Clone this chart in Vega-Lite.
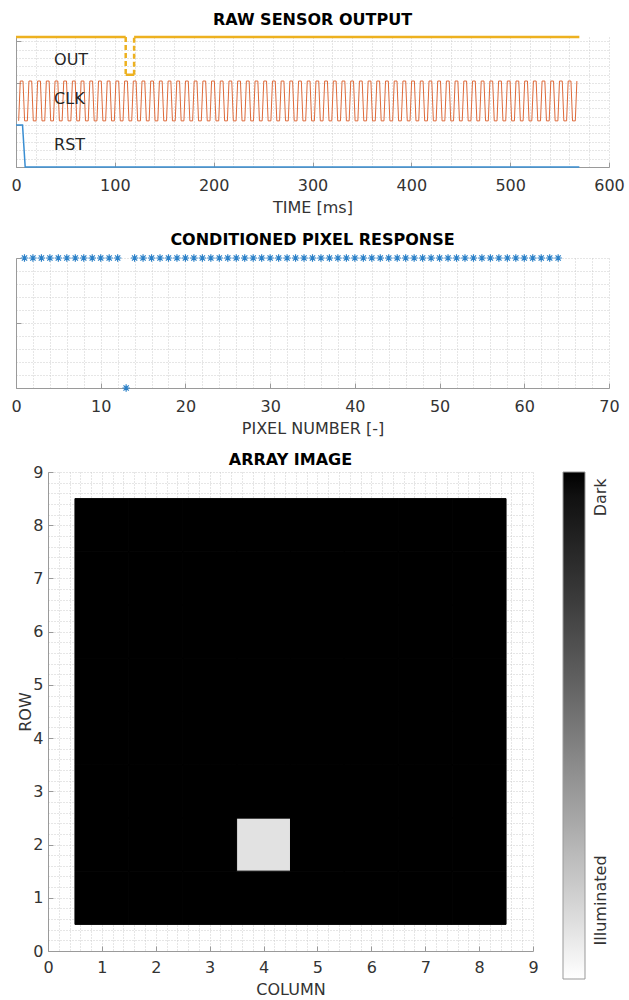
{
  "$schema": "https://vega.github.io/schema/vega-lite/v6.json",
  "background": "white",
  "padding": {"left": 10, "top": 12, "right": 0, "bottom": 0},
  "config": {
    "font": "DejaVu Sans",
    "view": {"stroke": null},
    "axis": {
      "labelFont": "DejaVu Sans", "labelFontSize": 16, "labelColor": "#333333",
      "titleFont": "DejaVu Sans", "titleFontSize": 16, "titleFontWeight": "normal", "titleColor": "#333333",
      "domainColor": "#9a9a9a", "tickColor": "#9a9a9a", "tickSize": -5,
      "gridColor": "#cccccc", "gridDash": [1, 2], "gridWidth": 1,
      "labelOverlap": false, "labelFlush": false, "labelPadding": 15, "titlePadding": 6
    },
    "title": {"font": "DejaVu Sans", "fontSize": 16, "fontWeight": "bold", "color": "#000000"}
  },
  "spacing": 16,
  "resolve": {"scale": {"color": "independent", "strokeDash": "independent"}, "legend": {"color": "independent", "strokeDash": "independent"}},
  "datasets": {
    "clk": [
      {"t":2.7,"v":1.1},{"t":4.3,"v":2.05},{"t":7.1,"v":2.05},{"t":8.7,"v":1.1},
      {"t":11.5,"v":1.1},{"t":13.1,"v":2.05},{"t":15.9,"v":2.05},{"t":17.5,"v":1.1},
      {"t":20.3,"v":1.1},{"t":21.9,"v":2.05},{"t":24.7,"v":2.05},{"t":26.3,"v":1.1},
      {"t":29.1,"v":1.1},{"t":30.7,"v":2.05},{"t":33.5,"v":2.05},{"t":35.1,"v":1.1},
      {"t":37.9,"v":1.1},{"t":39.5,"v":2.05},{"t":42.3,"v":2.05},{"t":43.9,"v":1.1},
      {"t":46.7,"v":1.1},{"t":48.3,"v":2.05},{"t":51.1,"v":2.05},{"t":52.7,"v":1.1},
      {"t":55.5,"v":1.1},{"t":57.1,"v":2.05},{"t":59.9,"v":2.05},{"t":61.5,"v":1.1},
      {"t":64.3,"v":1.1},{"t":65.9,"v":2.05},{"t":68.7,"v":2.05},{"t":70.3,"v":1.1},
      {"t":73.1,"v":1.1},{"t":74.7,"v":2.05},{"t":77.5,"v":2.05},{"t":79.1,"v":1.1},
      {"t":81.9,"v":1.1},{"t":83.5,"v":2.05},{"t":86.3,"v":2.05},{"t":87.9,"v":1.1},
      {"t":90.7,"v":1.1},{"t":92.3,"v":2.05},{"t":95.1,"v":2.05},{"t":96.7,"v":1.1},
      {"t":99.5,"v":1.1},{"t":101.1,"v":2.05},{"t":103.9,"v":2.05},{"t":105.5,"v":1.1},
      {"t":108.3,"v":1.1},{"t":109.9,"v":2.05},{"t":112.7,"v":2.05},{"t":114.3,"v":1.1},
      {"t":117.1,"v":1.1},{"t":118.7,"v":2.05},{"t":121.5,"v":2.05},{"t":123.1,"v":1.1},
      {"t":125.9,"v":1.1},{"t":127.5,"v":2.05},{"t":130.3,"v":2.05},{"t":131.9,"v":1.1},
      {"t":134.7,"v":1.1},{"t":136.3,"v":2.05},{"t":139.1,"v":2.05},{"t":140.7,"v":1.1},
      {"t":143.5,"v":1.1},{"t":145.1,"v":2.05},{"t":147.9,"v":2.05},{"t":149.5,"v":1.1},
      {"t":152.3,"v":1.1},{"t":153.9,"v":2.05},{"t":156.7,"v":2.05},{"t":158.3,"v":1.1},
      {"t":161.1,"v":1.1},{"t":162.7,"v":2.05},{"t":165.5,"v":2.05},{"t":167.1,"v":1.1},
      {"t":169.9,"v":1.1},{"t":171.5,"v":2.05},{"t":174.3,"v":2.05},{"t":175.9,"v":1.1},
      {"t":178.7,"v":1.1},{"t":180.3,"v":2.05},{"t":183.1,"v":2.05},{"t":184.7,"v":1.1},
      {"t":187.5,"v":1.1},{"t":189.1,"v":2.05},{"t":191.9,"v":2.05},{"t":193.5,"v":1.1},
      {"t":196.3,"v":1.1},{"t":197.9,"v":2.05},{"t":200.7,"v":2.05},{"t":202.3,"v":1.1},
      {"t":205.1,"v":1.1},{"t":206.7,"v":2.05},{"t":209.5,"v":2.05},{"t":211.1,"v":1.1},
      {"t":213.9,"v":1.1},{"t":215.5,"v":2.05},{"t":218.3,"v":2.05},{"t":219.9,"v":1.1},
      {"t":222.7,"v":1.1},{"t":224.3,"v":2.05},{"t":227.1,"v":2.05},{"t":228.7,"v":1.1},
      {"t":231.5,"v":1.1},{"t":233.1,"v":2.05},{"t":235.9,"v":2.05},{"t":237.5,"v":1.1},
      {"t":240.3,"v":1.1},{"t":241.9,"v":2.05},{"t":244.7,"v":2.05},{"t":246.3,"v":1.1},
      {"t":249.1,"v":1.1},{"t":250.7,"v":2.05},{"t":253.5,"v":2.05},{"t":255.1,"v":1.1},
      {"t":257.9,"v":1.1},{"t":259.5,"v":2.05},{"t":262.3,"v":2.05},{"t":263.9,"v":1.1},
      {"t":266.7,"v":1.1},{"t":268.3,"v":2.05},{"t":271.1,"v":2.05},{"t":272.7,"v":1.1},
      {"t":275.5,"v":1.1},{"t":277.1,"v":2.05},{"t":279.9,"v":2.05},{"t":281.5,"v":1.1},
      {"t":284.3,"v":1.1},{"t":285.9,"v":2.05},{"t":288.7,"v":2.05},{"t":290.3,"v":1.1},
      {"t":293.1,"v":1.1},{"t":294.7,"v":2.05},{"t":297.5,"v":2.05},{"t":299.1,"v":1.1},
      {"t":301.9,"v":1.1},{"t":303.5,"v":2.05},{"t":306.3,"v":2.05},{"t":307.9,"v":1.1},
      {"t":310.7,"v":1.1},{"t":312.3,"v":2.05},{"t":315.1,"v":2.05},{"t":316.7,"v":1.1},
      {"t":319.5,"v":1.1},{"t":321.1,"v":2.05},{"t":323.9,"v":2.05},{"t":325.5,"v":1.1},
      {"t":328.3,"v":1.1},{"t":329.9,"v":2.05},{"t":332.7,"v":2.05},{"t":334.3,"v":1.1},
      {"t":337.1,"v":1.1},{"t":338.7,"v":2.05},{"t":341.5,"v":2.05},{"t":343.1,"v":1.1},
      {"t":345.9,"v":1.1},{"t":347.5,"v":2.05},{"t":350.3,"v":2.05},{"t":351.9,"v":1.1},
      {"t":354.7,"v":1.1},{"t":356.3,"v":2.05},{"t":359.1,"v":2.05},{"t":360.7,"v":1.1},
      {"t":363.5,"v":1.1},{"t":365.1,"v":2.05},{"t":367.9,"v":2.05},{"t":369.5,"v":1.1},
      {"t":372.3,"v":1.1},{"t":373.9,"v":2.05},{"t":376.7,"v":2.05},{"t":378.3,"v":1.1},
      {"t":381.1,"v":1.1},{"t":382.7,"v":2.05},{"t":385.5,"v":2.05},{"t":387.1,"v":1.1},
      {"t":389.9,"v":1.1},{"t":391.5,"v":2.05},{"t":394.3,"v":2.05},{"t":395.9,"v":1.1},
      {"t":398.7,"v":1.1},{"t":400.3,"v":2.05},{"t":403.1,"v":2.05},{"t":404.7,"v":1.1},
      {"t":407.5,"v":1.1},{"t":409.1,"v":2.05},{"t":411.9,"v":2.05},{"t":413.5,"v":1.1},
      {"t":416.3,"v":1.1},{"t":417.9,"v":2.05},{"t":420.7,"v":2.05},{"t":422.3,"v":1.1},
      {"t":425.1,"v":1.1},{"t":426.7,"v":2.05},{"t":429.5,"v":2.05},{"t":431.1,"v":1.1},
      {"t":433.9,"v":1.1},{"t":435.5,"v":2.05},{"t":438.3,"v":2.05},{"t":439.9,"v":1.1},
      {"t":442.7,"v":1.1},{"t":444.3,"v":2.05},{"t":447.1,"v":2.05},{"t":448.7,"v":1.1},
      {"t":451.5,"v":1.1},{"t":453.1,"v":2.05},{"t":455.9,"v":2.05},{"t":457.5,"v":1.1},
      {"t":460.3,"v":1.1},{"t":461.9,"v":2.05},{"t":464.7,"v":2.05},{"t":466.3,"v":1.1},
      {"t":469.1,"v":1.1},{"t":470.7,"v":2.05},{"t":473.5,"v":2.05},{"t":475.1,"v":1.1},
      {"t":477.9,"v":1.1},{"t":479.5,"v":2.05},{"t":482.3,"v":2.05},{"t":483.9,"v":1.1},
      {"t":486.7,"v":1.1},{"t":488.3,"v":2.05},{"t":491.1,"v":2.05},{"t":492.7,"v":1.1},
      {"t":495.5,"v":1.1},{"t":497.1,"v":2.05},{"t":499.9,"v":2.05},{"t":501.5,"v":1.1},
      {"t":504.3,"v":1.1},{"t":505.9,"v":2.05},{"t":508.7,"v":2.05},{"t":510.3,"v":1.1},
      {"t":513.1,"v":1.1},{"t":514.7,"v":2.05},{"t":517.5,"v":2.05},{"t":519.1,"v":1.1},
      {"t":521.9,"v":1.1},{"t":523.5,"v":2.05},{"t":526.3,"v":2.05},{"t":527.9,"v":1.1},
      {"t":530.7,"v":1.1},{"t":532.3,"v":2.05},{"t":535.1,"v":2.05},{"t":536.7,"v":1.1},
      {"t":539.5,"v":1.1},{"t":541.1,"v":2.05},{"t":543.9,"v":2.05},{"t":545.5,"v":1.1},
      {"t":548.3,"v":1.1},{"t":549.9,"v":2.05},{"t":552.7,"v":2.05},{"t":554.3,"v":1.1},
      {"t":557.1,"v":1.1},{"t":558.7,"v":2.05},{"t":561.5,"v":2.05},{"t":563.1,"v":1.1},
      {"t":565.9,"v":1.1},{"t":567.5,"v":2.05}
    ],
    "rst": [
      {"t":0,"v":1},{"t":6.6,"v":1},{"t":9.3,"v":0},{"t":570,"v":0}
    ],
    "out": [
      {"t":0,"v":3.1,"seg":"high1","kind":"level"},{"t":111.0,"v":3.1,"seg":"high1","kind":"level"},
      {"t":111.0,"v":3.1,"seg":"fall","kind":"edge"},{"t":111.0,"v":2.2,"seg":"fall","kind":"edge"},
      {"t":111.0,"v":2.2,"seg":"low","kind":"level"},{"t":119.5,"v":2.2,"seg":"low","kind":"level"},
      {"t":119.5,"v":2.2,"seg":"rise","kind":"edge"},{"t":119.5,"v":3.1,"seg":"rise","kind":"edge"},
      {"t":119.5,"v":3.1,"seg":"high2","kind":"level"},{"t":570,"v":3.1,"seg":"high2","kind":"level"}
    ],
    "sig": [
      {"label":"OUT","t":38.5,"v":2.56},
      {"label":"CLK","t":38.5,"v":1.62},
      {"label":"RST","t":38.5,"v":0.52}
    ],
    "px": [
      {"p":1,"r":1},{"p":2,"r":1},{"p":3,"r":1},{"p":4,"r":1},{"p":5,"r":1},{"p":6,"r":1},{"p":7,"r":1},{"p":8,"r":1},
      {"p":9,"r":1},{"p":10,"r":1},{"p":11,"r":1},{"p":12,"r":1},{"p":13,"r":0},{"p":14,"r":1},{"p":15,"r":1},{"p":16,"r":1},
      {"p":17,"r":1},{"p":18,"r":1},{"p":19,"r":1},{"p":20,"r":1},{"p":21,"r":1},{"p":22,"r":1},{"p":23,"r":1},{"p":24,"r":1},
      {"p":25,"r":1},{"p":26,"r":1},{"p":27,"r":1},{"p":28,"r":1},{"p":29,"r":1},{"p":30,"r":1},{"p":31,"r":1},{"p":32,"r":1},
      {"p":33,"r":1},{"p":34,"r":1},{"p":35,"r":1},{"p":36,"r":1},{"p":37,"r":1},{"p":38,"r":1},{"p":39,"r":1},{"p":40,"r":1},
      {"p":41,"r":1},{"p":42,"r":1},{"p":43,"r":1},{"p":44,"r":1},{"p":45,"r":1},{"p":46,"r":1},{"p":47,"r":1},{"p":48,"r":1},
      {"p":49,"r":1},{"p":50,"r":1},{"p":51,"r":1},{"p":52,"r":1},{"p":53,"r":1},{"p":54,"r":1},{"p":55,"r":1},{"p":56,"r":1},
      {"p":57,"r":1},{"p":58,"r":1},{"p":59,"r":1},{"p":60,"r":1},{"p":61,"r":1},{"p":62,"r":1},{"p":63,"r":1},{"p":64,"r":1}
    ],
    "img": [
      {"col":1,"row":1,"v":1},{"col":2,"row":1,"v":1},{"col":3,"row":1,"v":1},{"col":4,"row":1,"v":1},{"col":5,"row":1,"v":1},{"col":6,"row":1,"v":1},{"col":7,"row":1,"v":1},{"col":8,"row":1,"v":1},
      {"col":1,"row":2,"v":1},{"col":2,"row":2,"v":1},{"col":3,"row":2,"v":1},{"col":4,"row":2,"v":0.1},{"col":5,"row":2,"v":1},{"col":6,"row":2,"v":1},{"col":7,"row":2,"v":1},{"col":8,"row":2,"v":1},
      {"col":1,"row":3,"v":1},{"col":2,"row":3,"v":1},{"col":3,"row":3,"v":1},{"col":4,"row":3,"v":1},{"col":5,"row":3,"v":1},{"col":6,"row":3,"v":1},{"col":7,"row":3,"v":1},{"col":8,"row":3,"v":1},
      {"col":1,"row":4,"v":1},{"col":2,"row":4,"v":1},{"col":3,"row":4,"v":1},{"col":4,"row":4,"v":1},{"col":5,"row":4,"v":1},{"col":6,"row":4,"v":1},{"col":7,"row":4,"v":1},{"col":8,"row":4,"v":1},
      {"col":1,"row":5,"v":1},{"col":2,"row":5,"v":1},{"col":3,"row":5,"v":1},{"col":4,"row":5,"v":1},{"col":5,"row":5,"v":1},{"col":6,"row":5,"v":1},{"col":7,"row":5,"v":1},{"col":8,"row":5,"v":1},
      {"col":1,"row":6,"v":1},{"col":2,"row":6,"v":1},{"col":3,"row":6,"v":1},{"col":4,"row":6,"v":1},{"col":5,"row":6,"v":1},{"col":6,"row":6,"v":1},{"col":7,"row":6,"v":1},{"col":8,"row":6,"v":1},
      {"col":1,"row":7,"v":1},{"col":2,"row":7,"v":1},{"col":3,"row":7,"v":1},{"col":4,"row":7,"v":1},{"col":5,"row":7,"v":1},{"col":6,"row":7,"v":1},{"col":7,"row":7,"v":1},{"col":8,"row":7,"v":1},
      {"col":1,"row":8,"v":1},{"col":2,"row":8,"v":1},{"col":3,"row":8,"v":1},{"col":4,"row":8,"v":1},{"col":5,"row":8,"v":1},{"col":6,"row":8,"v":1},{"col":7,"row":8,"v":1},{"col":8,"row":8,"v":1}
    ]
  },
  "vconcat": [
    {
      "spacing": 16,
      "resolve": {"scale": {"strokeDash": "independent"}, "legend": {"strokeDash": "independent"}},
      "vconcat": [
        {
          "width": 593,
          "height": 130,
          "title": {"text": "RAW SENSOR OUTPUT", "offset": 4},
          "encoding": {
            "x": {"field": "t", "type": "quantitative",
              "scale": {"domain": [0, 600], "nice": false, "zero": false},
              "axis": {"title": "TIME [ms]", "grid": true,
                "values": [0,20,40,60,80,100,120,140,160,180,200,220,240,260,280,300,320,340,360,380,400,420,440,460,480,500,520,540,560,580,600],
                "labelExpr": "datum.value % 100 === 0 ? datum.label : ''",
                "tickOpacity": {"condition": {"test": "datum.value % 100 === 0", "value": 1}, "value": 0}}},
            "y": {"field": "v", "type": "quantitative",
              "scale": {"domain": [0, 3.1], "nice": false, "zero": false},
              "axis": {"title": null, "labels": false, "grid": true,
                "values": [0,0.2,0.4,0.6,0.8,1,1.2,1.4,1.6,1.8,2,2.2,2.4,2.6,2.8,3],
                "tickOpacity": {"condition": {"test": "abs(datum.value - round(datum.value)) < 0.001", "value": 1}, "value": 0}}}
          },
          "layer": [
            {"data": {"name": "clk"}, "mark": {"type": "line", "color": "#DE6A3A", "strokeWidth": 1}},
            {"data": {"name": "rst"}, "mark": {"type": "line", "color": "#3A8ED2", "strokeWidth": 1.5}},
            {"data": {"name": "out"}, "mark": {"type": "line", "color": "#EDB120", "strokeWidth": 2.5},
              "encoding": {
                "detail": {"field": "seg", "type": "nominal"},
                "strokeDash": {"field": "kind", "type": "nominal", "scale": {"domain": ["level", "edge"], "range": [[10, 0], [5, 3]]}, "legend": null}
              }},
            {"data": {"name": "sig"}, "mark": {"type": "text", "align": "left", "baseline": "middle", "font": "DejaVu Sans", "fontSize": 16, "color": "#262626"},
              "encoding": {"text": {"field": "label", "type": "nominal"}}}
          ]
        },
        {
          "width": 593,
          "height": 130,
          "title": {"text": "CONDITIONED PIXEL RESPONSE", "offset": 4},
          "data": {"name": "px"},
          "mark": {"type": "point", "shape": "M-1,0L1,0M0,-1L0,1M-0.7,-0.7L0.7,0.7M-0.7,0.7L0.7,-0.7", "filled": false, "size": 56, "strokeWidth": 1.2, "color": "#2A80C8", "opacity": 1},
          "encoding": {
            "x": {"field": "p", "type": "quantitative",
              "scale": {"domain": [0, 70], "nice": false, "zero": false},
              "axis": {"title": "PIXEL NUMBER [-]", "grid": true,
                "values": [0,2,4,6,8,10,12,14,16,18,20,22,24,26,28,30,32,34,36,38,40,42,44,46,48,50,52,54,56,58,60,62,64,66,68,70],
                "labelExpr": "datum.value % 10 === 0 ? datum.label : ''",
                "tickOpacity": {"condition": {"test": "datum.value % 10 === 0", "value": 1}, "value": 0}}},
            "y": {"field": "r", "type": "quantitative",
              "scale": {"domain": [0, 1], "nice": false, "zero": false},
              "axis": {"title": null, "labels": false, "grid": true,
                "values": [0,0.1,0.2,0.3,0.4,0.5,0.6,0.7,0.8,0.9,1],
                "tickOpacity": {"condition": {"test": "abs(datum.value * 2 - round(datum.value * 2)) < 0.001", "value": 1}, "value": 0}}}
          }
        }
      ]
    },
    {
      "spacing": 0,
      "resolve": {"scale": {"color": "independent"}, "legend": {"color": "independent"}},
      "hconcat": [
        {
          "width": 1,
          "height": 10,
          "data": {"values": []},
          "mark": "point"
        },
        {
          "width": 485,
          "height": 479,
          "title": {"text": "ARRAY IMAGE", "offset": -4},
          "data": {"name": "img"},
          "mark": {"type": "rect", "width": 53.9, "height": 53.2, "stroke": "#000000", "strokeWidth": 1},
          "encoding": {
            "x": {"field": "col", "type": "quantitative",
              "scale": {"domain": [0, 9], "nice": false, "zero": false},
              "axis": {"title": "COLUMN", "grid": true, "labelPadding": 13,
                "values": [0,0.2,0.4,0.6,0.8,1,1.2,1.4,1.6,1.8,2,2.2,2.4,2.6,2.8,3,3.2,3.4,3.6,3.8,4,4.2,4.4,4.6,4.8,5,5.2,5.4,5.6,5.8,6,6.2,6.4,6.6,6.8,7,7.2,7.4,7.6,7.8,8,8.2,8.4,8.6,8.8,9],
                "labelExpr": "abs(datum.value - round(datum.value)) < 0.001 ? format(datum.value, '.0f') : ''",
                "tickOpacity": {"condition": {"test": "abs(datum.value - round(datum.value)) < 0.001", "value": 1}, "value": 0}}},
            "y": {"field": "row", "type": "quantitative",
              "scale": {"domain": [0, 9], "nice": false, "zero": false},
              "axis": {"title": "ROW", "grid": true, "labelPadding": 10, "titlePadding": -1,
                "values": [0,0.2,0.4,0.6,0.8,1,1.2,1.4,1.6,1.8,2,2.2,2.4,2.6,2.8,3,3.2,3.4,3.6,3.8,4,4.2,4.4,4.6,4.8,5,5.2,5.4,5.6,5.8,6,6.2,6.4,6.6,6.8,7,7.2,7.4,7.6,7.8,8,8.2,8.4,8.6,8.8,9],
                "labelExpr": "abs(datum.value - round(datum.value)) < 0.001 ? format(datum.value, '.0f') : ''",
                "tickOpacity": {"condition": {"test": "abs(datum.value - round(datum.value)) < 0.001", "value": 1}, "value": 0}}},
            "color": {"field": "v", "type": "quantitative",
              "scale": {"domain": [0, 1], "range": ["#ffffff", "#000000"]},
              "legend": {"type": "gradient", "orient": "right", "offset": 30, "direction": "vertical", "title": null,
                "gradientLength": 507, "gradientThickness": 22, "values": [0.155, 0.95],
                "labelExpr": "datum.value >= 0.5 ? 'Dark' : 'Illuminated'",
                "labelFont": "DejaVu Sans", "labelFontSize": 16, "labelColor": "#333333", "labelOffset": 8,
                "gradientStrokeColor": "#999999", "gradientStrokeWidth": 1,
                "encode": {"labels": {"update": {"angle": {"value": -90}, "align": {"value": "center"}, "baseline": {"value": "top"}}}}}}
          }
        }
      ]
    }
  ]
}
